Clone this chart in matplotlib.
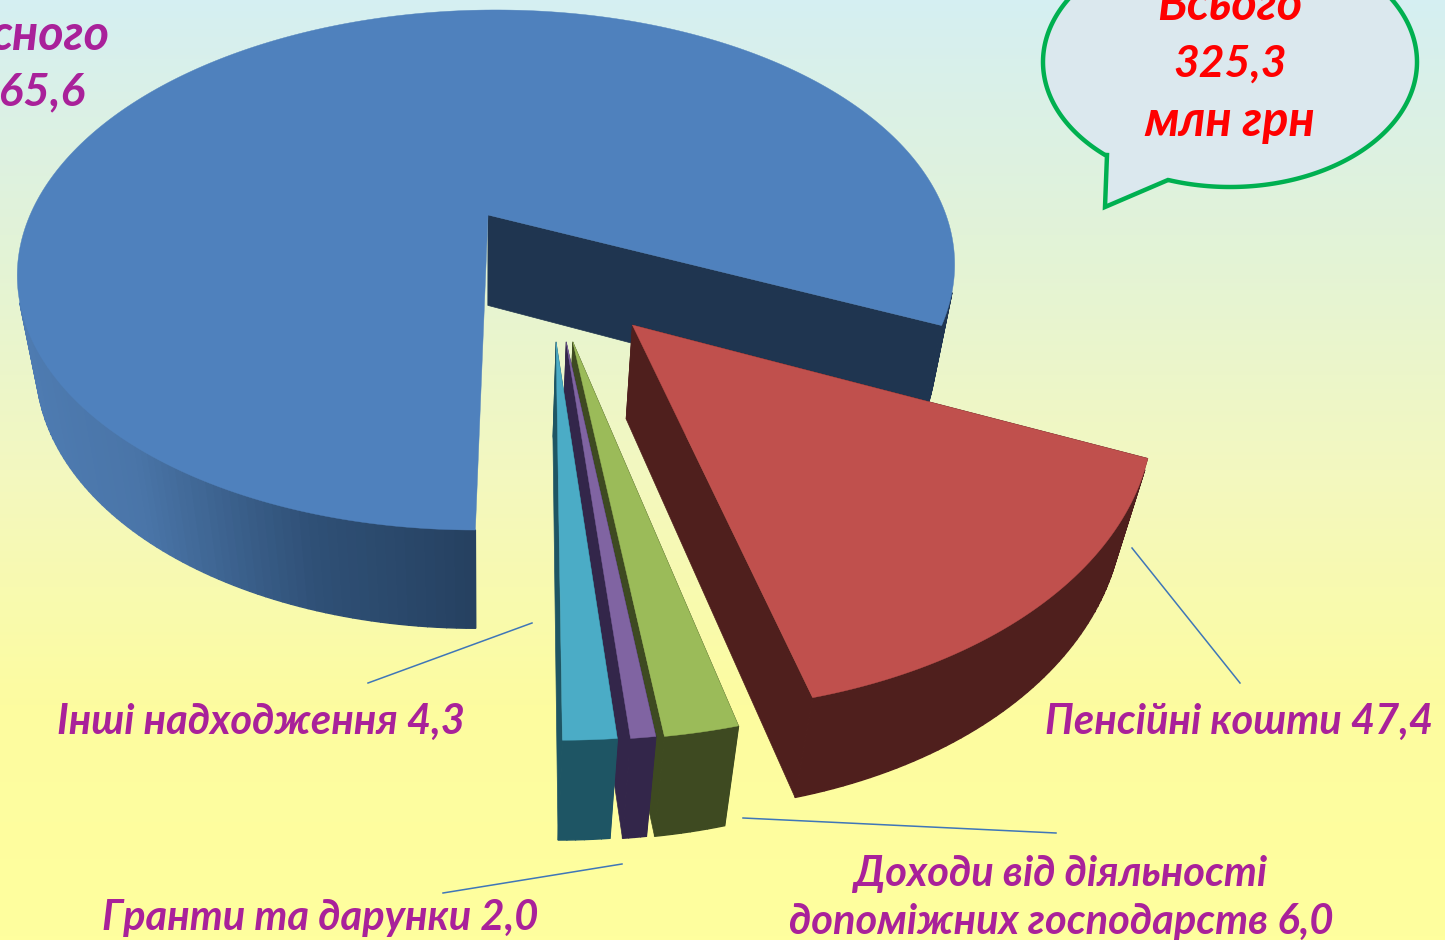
import numpy as np
import matplotlib
matplotlib.use('Agg')
import matplotlib.pyplot as plt
from matplotlib.colors import LinearSegmentedColormap

plt.rcParams['font.family'] = ['Lato', 'Open Sans', 'Noto Sans', 'DejaVu Sans']

# clockwise from the right edge of the big slice
names = ['Пенсійні кошти', 'Доходи від діяльності\nдопоміжних господарств', 'Гранти та дарунки', 'Інші надходження', 'сного']
values = [47.4, 6.0, 2.0, 4.3, 265.6]
total = 325.3

top_colors = ['#c0504d', '#9bbb59', '#8064a2', '#4bacc6', '#4f81bd']
side_colors = ['#4f1f1d', '#3e4a21', '#33264a', '#1e5564', '#1f3550']
# how far each slice is pulled out of the pie (plane units)
offsets = [(0.3075, 0.405), (0.1875, 0.461), (0.1745, 0.461), (0.1545, 0.461), (0.011, 0.0)]

start_angle = 66

# perspective of the pie plane, in pixels
X0, Y0 = 483, 215
A, B, k, S = 458, 248.4, 0.2115, -10.5
drop_m, drop_c = 0.04, 94


def project(u, v, low=False):
    w = 1 - k * v + (drop_m if low else 0)
    return X0 + (A * u + S * v) / w, Y0 + (B * v + (drop_c if low else 0)) / w


def facing(xs, ys):
    # shoelace sign, y axis goes down on the picture
    return sum(xs[i] * ys[(i + 1) % 4] - xs[(i + 1) % 4] * ys[i] for i in range(4))


fig = plt.figure(figsize=(14.45, 9.4), dpi=100)
ax = fig.add_axes([0, 0, 1, 1])
ax.axis('off')

bg = LinearSegmentedColormap.from_list('bg', [(0, '#d5eff2'), (0.25, '#e2f3d8'), (0.5, '#f3f8c0'), (0.75, '#fdfca0'), (1, '#ffff9e')])
ax.imshow(np.linspace(0, 1, 256).reshape(-1, 1), cmap=bg, extent=(0, 1445, 940, 0), aspect='auto', zorder=0)
ax.set_xlim(0, 1445)
ax.set_ylim(940, 0)

blue_wall = LinearSegmentedColormap.from_list('bw', ['#25405f', '#2f5076', '#4a75a8', '#4f7db4'])

angle = start_angle
spans = []
for val in values:
    spans.append((angle - val / total * 360, angle))
    angle -= val / total * 360

# paint order of the reference: each thin slice lies over the one to its right
order = [4, 0, 1, 2, 3]
z = 2
for i in order:
    a0, a1 = spans[i]
    ou, ov = offsets[i]
    th = np.radians(np.linspace(a0, a1, int(a1 - a0) + 3))
    u = ou + np.sin(th)
    v = ov + np.cos(th)

    # straight cut walls, the big slice only shows its right one
    cuts = [(u[0], v[0])] if i == 4 else [(u[0], v[0]), (u[-1], v[-1])]
    for cu, cv in cuts:
        p = [project(ou, ov), project(cu, cv), project(cu, cv, True), project(ou, ov, True)]
        ax.fill([q[0] for q in p], [q[1] for q in p], color=side_colors[i], lw=0.5, zorder=z)

    # outer wall in strips so the big slice can carry its shading
    for j in range(len(th) - 1):
        p = [project(u[j], v[j]), project(u[j + 1], v[j + 1]), project(u[j + 1], v[j + 1], True), project(u[j], v[j], True)]
        xs = [q[0] for q in p]
        ys = [q[1] for q in p]
        if facing(xs, ys) < 0:
            continue
        col = side_colors[i]
        if i == 4 and np.sin(th[j]) < 0:
            col = blue_wall(min(1.0, abs(np.sin(th[j])) ** 0.9))
        ax.fill(xs, ys, color=col, lw=1.0, zorder=z + 1)

    px, py = zip(*[project(a, b) for a, b in zip(u, v)])
    ax.fill((project(ou, ov)[0],) + px, (project(ou, ov)[1],) + py, color=top_colors[i], lw=0.3, zorder=z + 2)
    z += 3

# callout
t = np.radians(np.linspace(0, 360, 361))
ex = 1230 + 187 * np.cos(t)
ey = 62 + 125 * np.sin(t)
keep = ~((ex > 1107) & (ex < 1168) & (ey > 100))
idx = np.where(keep)[0]
gap = np.argmax(np.diff(idx) > 1)
bx = list(ex[idx[gap + 1:]]) + list(ex[idx[:gap + 1]]) + [1168, 1105, 1107]
by = list(ey[idx[gap + 1:]]) + list(ey[idx[:gap + 1]]) + [180, 207, 155]
ax.fill(bx, by, facecolor='#dbe8ee', edgecolor='#00b050', lw=3.2, joinstyle='miter', zorder=40)

txt = dict(style='italic', fontweight='bold', ha='center', va='center', zorder=50)
purple = '#a9219a'
fs = 30


def lab(i):
    return f'{names[i]} {values[i]}'.replace('.', ',')


ax.text(1239, 722, lab(0), color=purple, fontsize=fs, **txt)
ax.text(1061, 898, lab(1), color=purple, fontsize=fs, linespacing=1.34, **txt)
ax.text(320, 918, lab(2), color=purple, fontsize=fs, **txt)
ax.text(261, 722, lab(3), color=purple, fontsize=fs, **txt)
ax.text(110, 35, names[4], color=purple, fontsize=35, style='italic', fontweight='bold', ha='right', va='center', zorder=50)
ax.text(85, 92, f'{values[4]}'.replace('.', ','), color=purple, fontsize=33, style='italic', fontweight='bold', ha='right', va='center', zorder=50)

ax.text(1230, 5, 'Всього', color='#ff0000', fontsize=35, **txt)
ax.text(1230, 64, f'{total}'.replace('.', ','), color='#ff0000', fontsize=32, **txt)
ax.text(1230, 121, 'млн грн', color='#ff0000', fontsize=35, **txt)

# leader lines
ax.plot([1132, 1240], [548, 683], color='#3f76b8', lw=1.1, zorder=30)
ax.plot([743, 1056], [818, 833], color='#3f76b8', lw=1.1, zorder=30)
ax.plot([443, 622], [893, 864], color='#3f76b8', lw=1.1, zorder=30)
ax.plot([368, 532], [683, 623], color='#3f76b8', lw=1.1, zorder=30)

fig.savefig('out.png', dpi=100)
